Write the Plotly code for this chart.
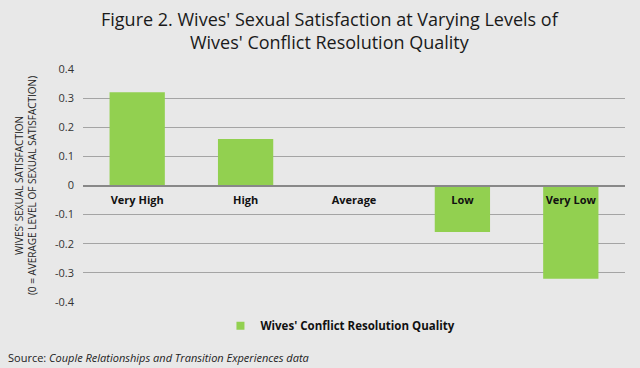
import plotly.graph_objects as go

categories = ["Very High", "High", "Average", "Low", "Very Low"]
values = [0.32, 0.16, 0.0, -0.16, -0.32]
y_ticks = [0.4, 0.3, 0.2, 0.1, 0, -0.1, -0.2, -0.3, -0.4]
y_tick_labels = ["0.4", "0.3", "0.2", "0.1", "0", "-0.1", "-0.2", "-0.3", "-0.4"]
series_name = "Wives' Conflict Resolution Quality"

BG = "#e8e8e8"
GREEN = "#92D050"
PLOT_H = 368 - 69 - 66
PLOT_W = 640 - 83 - 15

fig = go.Figure()
fig.add_trace(go.Bar(
    x=categories, y=values, name=series_name,
    marker=dict(color=GREEN, line=dict(width=0)), width=0.51,
    showlegend=False,
))
# legend entry with a small square symbol
fig.add_trace(go.Scatter(
    x=[None], y=[None], mode="markers", name=series_name,
    marker=dict(symbol="square", size=8, color=GREEN), showlegend=True,
))

fig.update_layout(
    width=640, height=368,
    paper_bgcolor=BG, plot_bgcolor=BG,
    margin=dict(l=83, r=15, t=69, b=66, autoexpand=False),
    font=dict(family="Open Sans, Lato, sans-serif", color="#222"),
    xaxis=dict(
        anchor="free", position=0.5,
        showline=True, linecolor="#888888", linewidth=1.5,
        ticks="", showgrid=False, ticklabelstandoff=5,
        tickfont=dict(size=11, color="#111", family="Open Sans, sans-serif", weight="bold"),
        range=[-0.5, 4.5],
    ),
    yaxis=dict(
        range=[-0.4, 0.4], tickvals=y_ticks, ticktext=y_tick_labels,
        showgrid=True, gridcolor="#a4a4a4", gridwidth=1,
        zeroline=False, showline=False, ticks="",
        tickfont=dict(size=11, color="#333"),
        ticklabelstandoff=8,
        title=dict(
            text="WIVES' SEXUAL SATISFACTION<br>(0 = AVERAGE LEVEL OF SEXUAL SATISFACTION)",
            font=dict(size=10, color="#222"), standoff=16,
        ),
    ),
    legend=dict(
        orientation="h", x=0.475, xanchor="center", y=-0.04, yanchor="top",
        font=dict(size=11.5, color="#111", weight="bold"), bgcolor="rgba(0,0,0,0)",
    ),
)

fig.add_annotation(
    text="Figure 2. Wives' Sexual Satisfaction at Varying Levels of<br>Wives' Conflict Resolution Quality",
    xref="paper", yref="paper", x=(330 - 83) / PLOT_W, y=1 + (69 - 5) / PLOT_H,
    xanchor="center", yanchor="top", showarrow=False, align="center",
    font=dict(size=18, color="#1a1a1a", family="Open Sans, sans-serif"),
)

fig.add_annotation(
    text="Source: <i>Couple Relationships and Transition Experiences data</i>",
    xref="paper", yref="paper", x=-77 / PLOT_W, y=-46 / PLOT_H, xanchor="left", yanchor="top",
    showarrow=False, font=dict(size=11, color="#222"),
)

fig.write_html("out.html", config={"displayModeBar": False},
               post_script="document.body.style.margin='0';")
